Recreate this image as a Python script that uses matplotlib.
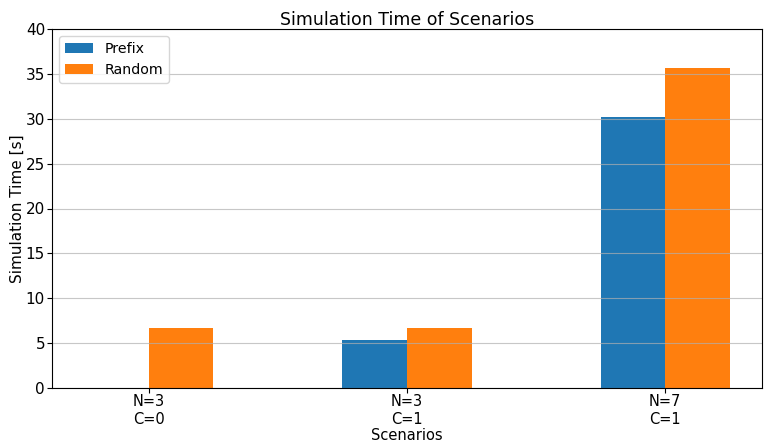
import matplotlib
matplotlib.use("Agg")
import matplotlib.pyplot as plt
import numpy as np

categories = ["N=3\nC=0", "N=3\nC=1", "N=7\nC=1"]
prefix = [0.0, 5.35, 30.2]
random_ = [6.68, 6.68, 35.65]
yticks = [0, 5, 10, 15, 20, 25, 30, 35, 40]

plt.rcParams['font.size'] = 11
fig = plt.figure(figsize=(7.64, 4.45), dpi=100)
ax = fig.add_axes([52/764, 1-388/445, 710/764, 359/445])

x = np.arange(len(categories))
w = 0.25
ax.bar(x - w/2, prefix, w, label="Prefix", color="#1f77b4")
ax.bar(x + w/2, random_, w, label="Random", color="#ff7f0e")
ax.set_xticks(x)
ax.set_xticklabels(categories, fontsize=10.5)
ax.set_yticks(yticks)
ax.set_ylim(0, 40)
ax.set_xlim(-0.375, 2.375)
ax.tick_params(axis='y', labelsize=11, pad=1.5)
ax.tick_params(axis='x', pad=1)
ax.grid(axis='y', alpha=0.7)
ax.set_title("Simulation Time of Scenarios", fontsize=12.5, pad=3)
ax.set_xlabel("Scenarios", fontsize=10.5, labelpad=1)
ax.set_ylabel("Simulation Time [s]", fontsize=11, labelpad=0.5)
ax.legend(loc="upper left", fontsize=10.2)
fig.savefig("out.png", dpi=100)
